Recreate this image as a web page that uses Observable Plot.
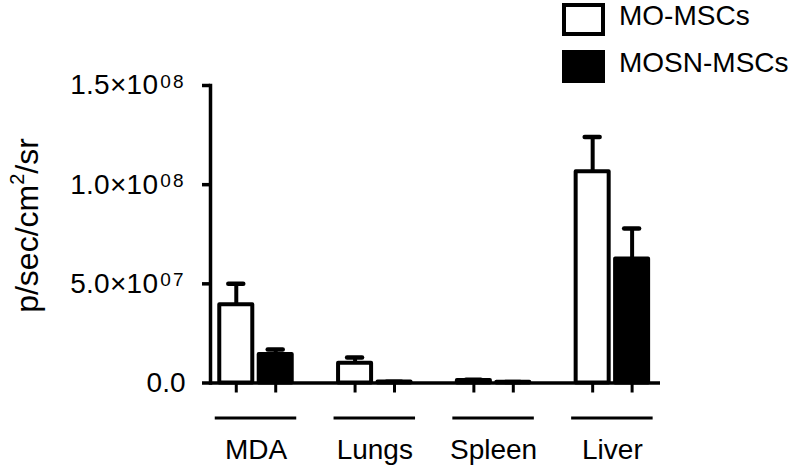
<!DOCTYPE html>
<html>
<head>
<meta charset="utf-8">
<script src="https://cdn.jsdelivr.net/npm/d3@7"></script>
<script src="https://cdn.jsdelivr.net/npm/@observablehq/plot@0.6"></script>
<style>
  body { margin: 0; background: white; }
  #wrap { position: relative; width: 792px; height: 469px; font-family: "Liberation Sans", Arial, sans-serif; }
  #wrap svg { position: absolute; left: 0; top: 0; }
  .lg-box { position: absolute; left: 562px; width: 43px; height: 33px; box-sizing: border-box; border: 4px solid black; }
  .lg-txt { position: absolute; left: 619px; font-size: 28px; line-height: 28px; color: black; white-space: nowrap; }
</style>
</head>
<body>
<div id="wrap"></div>
<script>
// ---- data ----
const categories = ["MDA", "Lungs", "Spleen", "Liver"];
const seriesNames = ["MO-MSCs", "MOSN-MSCs"];
const moMean   = [3.95e7, 1.0e7, 1.2e6, 1.065e8];
const moSem    = [1.05e7, 0.29e7, 0.4e6, 1.75e7];
const mosnMean = [1.44e7, 0.5e6, 0.4e6, 6.25e7];
const mosnSem  = [0.25e7, 0.1e6, 0.1e6, 1.54e7];
const yTicks = [0, 5e7, 1e8, 1.5e8];
const yTickLabels = ["0.0", "5.0×10^07", "1.0×10^08", "1.5×10^08"];
const yLabel = "p/sec/cm^2/sr";

// ---- build table ----
const offset = 0.166, half = 0.139, capHalf = 0.063, lineHalf = 0.343;
const table = [];
categories.forEach((c, i) => {
  [moMean, mosnMean].forEach((arr, s) => {
    const sem = s === 0 ? moSem[i] : mosnSem[i];
    table.push({cat: c, gi: i, series: seriesNames[s], s, mean: arr[i], top: arr[i] + sem,
      x: i + (s === 0 ? -offset : offset)});
  });
});
const groups = categories.map((c, i) => ({cat: c, gi: i}));

const chart = Plot.plot({
  width: 792,
  height: 469,
  marginLeft: 210,
  marginRight: 132,
  marginTop: 85,
  marginBottom: 86.5,
  style: {fontFamily: '"Liberation Sans", Arial, sans-serif', fontSize: "28px", color: "black", background: "white", overflow: "visible"},
  x: {domain: [-0.383, 3.405]},
  y: {domain: [0, 1.5e8]},
  marks: [
    // error stems
    Plot.ruleX(table, {x: "x", y1: "mean", y2: "top", stroke: "black", strokeWidth: 4}),
    // bars
    Plot.rect(table, {x1: d => d.x - half, x2: d => d.x + half, y1: 0, y2: "mean",
      fill: d => d.s === 0 ? "white" : "black", stroke: "black", strokeWidth: 4, strokeLinejoin: "round"}),
    // caps
    Plot.ruleY(table, {y: "top", x1: d => d.x - capHalf, x2: d => d.x + capHalf, stroke: "black", strokeWidth: 4.5, strokeLinecap: "round"}),
    // axes lines
    Plot.ruleY([0], {stroke: "black", strokeWidth: 3.5}),
    Plot.frame({anchor: "left", stroke: "black", strokeWidth: 3.5}),
    Plot.axisY({ticks: yTicks, tickSize: 8, tickPadding: 17, strokeWidth: 3.5, fontSize: 28,
      tickFormat: v => yTickLabels[yTicks.indexOf(v)], label: null}),
    Plot.axisX({ticks: table.map(d => d.x), tickSize: 10, strokeWidth: 3, tickFormat: () => "", label: null}),
    // group underlines and labels
    Plot.ruleY(groups, {y: 0, x1: d => d.gi - lineHalf, x2: d => d.gi + lineHalf, dy: 35, stroke: "black", strokeWidth: 3}),
    Plot.text(groups, {x: "gi", y: 0, text: "cat", dy: 67.5, fontSize: 28, fill: "black"}),
    // y label
    Plot.text([yLabel], {frameAnchor: "left", textAnchor: "middle", lineAnchor: "middle", rotate: -90,
      text: d => d, dx: -182.5, dy: -8.75, fontSize: 32, fill: "black"})
  ]
});

// superscripts
d3.select(chart).selectAll("text").each(function() {
  const t = this.textContent;
  if (!t.includes("^")) return;
  const sel = d3.select(this);
  if (t === yLabel) {
    const [a, rest] = t.split("^");
    const sup = rest.slice(0, 1), b = rest.slice(1);
    sel.text(null);
    sel.append("tspan").text(a);
    sel.append("tspan").attr("font-size", 20).attr("dy", -14).text(sup);
    sel.append("tspan").attr("dy", 14).text(b);
  } else {
    const [a, sup] = t.split("^");
    sel.text(null);
    sel.append("tspan").attr("letter-spacing", 0.3).text(a);
    sel.append("tspan").attr("font-size", 19).attr("dy", -6.5).attr("dx", 2).attr("letter-spacing", 2).text(sup);
  }
});

const wrap = document.getElementById("wrap");
wrap.appendChild(chart);
// legend
const legend = [
  {name: seriesNames[0], fill: "white", boxTop: 3, txtTop: 2},
  {name: seriesNames[1], fill: "black", boxTop: 50, txtTop: 49}
];
legend.forEach(l => {
  const b = document.createElement("div");
  b.className = "lg-box"; b.style.top = l.boxTop + "px"; b.style.background = l.fill;
  wrap.appendChild(b);
  const t = document.createElement("div");
  t.className = "lg-txt"; t.style.top = l.txtTop + "px"; t.textContent = l.name;
  wrap.appendChild(t);
});
</script>
</body>
</html>
